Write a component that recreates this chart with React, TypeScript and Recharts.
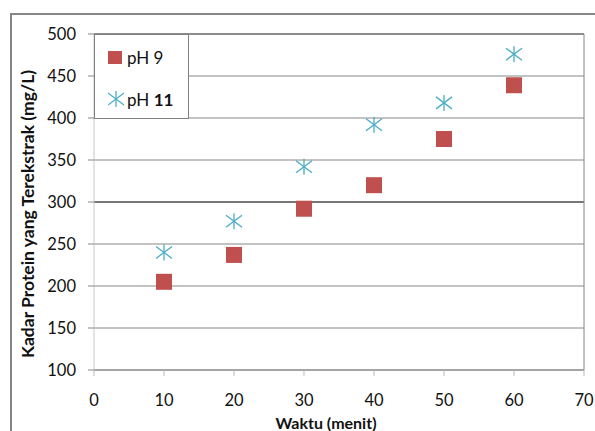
import React from 'react';
import {
    ScatterChart,
    Scatter,
    XAxis,
    YAxis,
    CartesianGrid,
    Legend,
    ReferenceLine,
    Label
} from 'recharts';

const waktu = [10, 20, 30, 40, 50, 60];
const ph9 = [205, 237, 292, 320, 375, 439];
const ph11 = [240, 277, 342, 392, 418, 476];
const xTicks = [0, 10, 20, 30, 40, 50, 60, 70];
const yTicks = [100, 150, 200, 250, 300, 350, 400, 450, 500];

const RED = '#C0504D';
const BLUE = '#4BACC6';
const GRID = '#868686';
const FONT = 'Lato';

const ph9Data = waktu.map((w, i) => ({ x: w, y: ph9[i] }));
const ph11Data = waktu.map((w, i) => ({ x: w, y: ph11[i] }));

const Square = (props: any) => {
    const { cx, cy } = props;
    return <rect x={cx - 8} y={cy - 8} width={16} height={16} fill={RED} />;
};

const Star = (props: any) => {
    const { cx, cy } = props;
    const r = 8;
    return (
        <g stroke={BLUE} strokeWidth={1.3}>
            <line x1={cx - r} y1={cy - r * 0.75} x2={cx + r} y2={cy + r * 0.75} />
            <line x1={cx - r} y1={cy + r * 0.75} x2={cx + r} y2={cy - r * 0.75} />
            <line x1={cx} y1={cy - r} x2={cx} y2={cy + r} />
        </g>
    );
};

const LegendBox = () => (
    <div style={{
        width: 95, height: 85, boxSizing: 'border-box', background: '#fff',
        border: '1px solid #808080', fontFamily: FONT, fontSize: 17, color: '#111', position: 'relative'
    }}>
        <div style={{ position: 'absolute', left: 13, top: 12, height: 20, display: 'flex', alignItems: 'center' }}>
            <span style={{ width: 14, height: 13, background: RED, display: 'inline-block', marginRight: 5 }} />
            <span>pH 9</span>
        </div>
        <div style={{ position: 'absolute', left: 13, top: 54, height: 20, display: 'flex', alignItems: 'center' }}>
            <svg width={16} height={16} style={{ marginRight: 3 }}>
                <Star cx={8} cy={8} />
            </svg>
            <span>pH <b>11</b></span>
        </div>
    </div>
);

const YLabel = () => (
    <text transform="translate(27,214) rotate(-90)" textAnchor="middle" dominantBaseline="central"
        fontFamily={FONT} fontSize={17.5} fontWeight="bold" fill="#111">
        Kadar Protein yang Terekstrak (mg/L)
    </text>
);

export default function App() {
    return (
        <div style={{ position: 'relative', width: 595, height: 431, background: '#fff', overflow: 'hidden' }}>
            <style>{`body{margin:0;overflow:hidden}`}</style>
            <div style={{
                position: 'absolute', left: 10, top: 13, width: 600, height: 440,
                borderLeft: `2px solid ${GRID}`, borderTop: `2px solid ${GRID}`
            }} />
            <div style={{ position: 'absolute', left: 0, top: 0 }}>
                <ScatterChart width={595} height={431} margin={{ top: 34, right: 11, bottom: 0, left: 0 }}>
                    <CartesianGrid vertical={false} stroke={GRID} />
                    <XAxis
                        type="number"
                        dataKey="x"
                        domain={[0, 70]}
                        ticks={xTicks}
                        height={61}
                        stroke={GRID}
                        tickLine={{ stroke: '#bbb' }}
                        tickSize={6}
                        tickMargin={18}
                        tick={{ fill: '#111', fontSize: 16.5, fontFamily: FONT }}
                    >
                        <Label value="Waktu (menit)" position="insideBottom" offset={2} dx={-13}
                            style={{ fontFamily: FONT, fontSize: 16, fontWeight: 'bold', fill: '#111' }} />
                    </XAxis>
                    <YAxis
                        type="number"
                        dataKey="y"
                        domain={[100, 500]}
                        ticks={yTicks}
                        width={94}
                        axisLine={{ stroke: '#c8c8c8' }}
                        tickLine={{ stroke: GRID }}
                        tickSize={6}
                        tickMargin={12}
                        tick={{ fill: '#111', fontSize: 16.5, fontFamily: FONT }}
                    >
                        <Label content={<YLabel />} />
                    </YAxis>
                    <ReferenceLine y={300} stroke="#777" strokeWidth={2} />
                    <ReferenceLine y={500} stroke="#555" />
                    <ReferenceLine x={70} stroke={GRID} />
                    <Legend
                        layout="vertical"
                        align="center"
                        verticalAlign="middle"
                        wrapperStyle={{ left: 94, top: 34, width: 95, height: 85 }}
                        content={() => <LegendBox />}
                    />
                    <Scatter name="pH 9" data={ph9Data} shape={<Square />} isAnimationActive={false} />
                    <Scatter name="pH 11" data={ph11Data} shape={<Star />} isAnimationActive={false} />
                </ScatterChart>
            </div>
        </div>
    );
}
